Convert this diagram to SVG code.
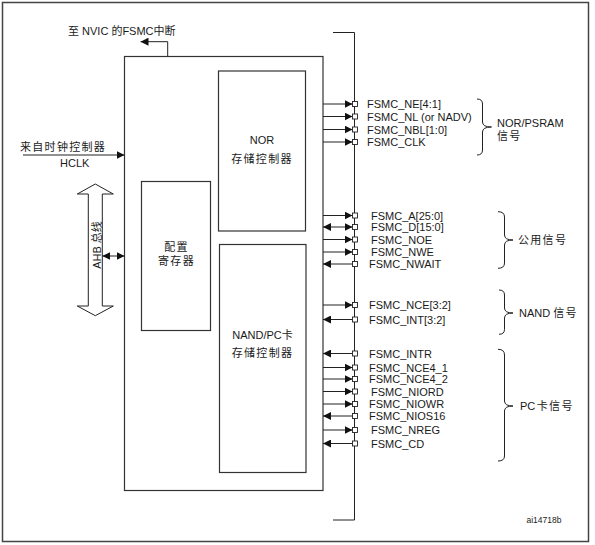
<svg xmlns="http://www.w3.org/2000/svg" width="595" height="545" viewBox="0 0 595 545">
<defs>
<style>
text{font-family:"Liberation Sans","Noto Sans CJK SC",sans-serif;font-size:11px;fill:#1a1a1a}
.cjk{letter-spacing:1.3px}
.box{fill:#fff;stroke:#333;stroke-width:1.2}
.ln{fill:none;stroke:#222;stroke-width:1}
.out{marker-end:url(#ah)}
.in{marker-end:url(#ah)}
.bi{marker-end:url(#ah);marker-start:url(#ahs)}
.pin{fill:#fff;stroke:#222;stroke-width:0.9}
.brace{fill:none;stroke:#222;stroke-width:1}
</style>
<marker id="ah" viewBox="0 0 8 8" refX="8" refY="4" markerWidth="8" markerHeight="8" markerUnits="userSpaceOnUse" orient="auto"><path d="M0,0 L8,4 L0,8 z" fill="#111"/></marker>
<marker id="ahs" viewBox="0 0 8 8" refX="8" refY="4" markerWidth="8" markerHeight="8" markerUnits="userSpaceOnUse" orient="auto-start-reverse"><path d="M0,0 L8,4 L0,8 z" fill="#111"/></marker>
</defs>
<rect x="0" y="0" width="595" height="545" fill="#fff"/>
<rect x="2.5" y="2.5" width="586" height="539" fill="none" stroke="#444" stroke-width="1.5"/>

<g id="fsmc">
<rect class="box" x="124.5" y="56.5" width="198.5" height="434"/>
</g>
<g id="nor-ctrl">
<rect class="box" x="218.5" y="71" width="87" height="160"/>
<text x="262" y="144" text-anchor="middle">NOR</text>
<text class="cjk" x="262" y="163" text-anchor="middle">存储控制器</text>
</g>
<g id="config-reg">
<rect class="box" x="141.5" y="181.5" width="69" height="149"/>
<text class="cjk" x="176.5" y="251" text-anchor="middle">配置</text>
<text class="cjk" x="176.5" y="265" text-anchor="middle">寄存器</text>
</g>
<g id="nand-ctrl">
<rect class="box" x="219.5" y="244.5" width="86.5" height="228"/>
<text x="262.5" y="339" text-anchor="middle">NAND/PC卡</text>
<text class="cjk" x="262.5" y="357" text-anchor="middle">存储控制器</text>
</g>
<g id="ahb-bus">
<polygon points="95.3,184 113.3,194 102.3,194 102.3,306 113.3,306 95.3,315.7 77.3,306 88.3,306 88.3,194 77.3,194" fill="#fff" stroke="#222" stroke-width="1"/>
<text x="0" y="0" text-anchor="middle" transform="translate(100.5,245) rotate(-90)">AHB 总线</text>
</g>
<g id="labels-left">
<text class="cjk" x="20" y="151">来自时钟控制器</text>
<text x="60" y="167">HCLK</text>
<text x="68" y="35">至 NVIC 的FSMC中断</text>
</g>
<g id="bus">
<path class="ln" d="M333,32.5 H354.5 V520 H333"/>
</g>
<g id="connectors">
<path class="ln out" d="M23,155 H124.5"/>
<path class="ln out" d="M167.7,56.5 V41.7 H140.5"/>
<path class="ln bi" d="M102.3,256 H124.5"/>
<path class="ln out" d="M323,104 H352.5"/>
<path class="ln out" d="M323,116.5 H352.5"/>
<path class="ln out" d="M323,129.5 H352.5"/>
<path class="ln out" d="M323,142 H352.5"/>
<path class="ln out" d="M323,215.5 H352.5"/>
<path class="ln bi" d="M323,227 H352.5"/>
<path class="ln out" d="M323,239.5 H352.5"/>
<path class="ln out" d="M323,252 H352.5"/>
<path class="ln in" d="M352.5,264 H323"/>
<path class="ln out" d="M323,305 H352.5"/>
<path class="ln in" d="M352.5,319.5 H323"/>
<path class="ln in" d="M352.5,353.5 H323"/>
<path class="ln out" d="M323,367.5 H352.5"/>
<path class="ln out" d="M323,379 H352.5"/>
<path class="ln out" d="M323,391.5 H352.5"/>
<path class="ln out" d="M323,404 H352.5"/>
<path class="ln in" d="M352.5,416 H323"/>
<path class="ln out" d="M323,430 H352.5"/>
<path class="ln in" d="M352.5,443.5 H323"/>
</g>
<g id="pins">
<rect class="pin" x="352.5" y="101.5" width="5" height="5"/>
<rect class="pin" x="352.5" y="114" width="5" height="5"/>
<rect class="pin" x="352.5" y="127" width="5" height="5"/>
<rect class="pin" x="352.5" y="139.5" width="5" height="5"/>
<rect class="pin" x="352.5" y="213" width="5" height="5"/>
<rect class="pin" x="352.5" y="224.5" width="5" height="5"/>
<rect class="pin" x="352.5" y="237" width="5" height="5"/>
<rect class="pin" x="352.5" y="249.5" width="5" height="5"/>
<rect class="pin" x="352.5" y="261.5" width="5" height="5"/>
<rect class="pin" x="352.5" y="302.5" width="5" height="5"/>
<rect class="pin" x="352.5" y="317" width="5" height="5"/>
<rect class="pin" x="352.5" y="351" width="5" height="5"/>
<rect class="pin" x="352.5" y="365" width="5" height="5"/>
<rect class="pin" x="352.5" y="376.5" width="5" height="5"/>
<rect class="pin" x="352.5" y="389" width="5" height="5"/>
<rect class="pin" x="352.5" y="401.5" width="5" height="5"/>
<rect class="pin" x="352.5" y="413.5" width="5" height="5"/>
<rect class="pin" x="352.5" y="427.5" width="5" height="5"/>
<rect class="pin" x="352.5" y="441" width="5" height="5"/>
</g>
<g id="signals-nor">
<text x="367" y="108">FSMC_NE[4:1]</text>
<text x="367" y="120.5">FSMC_NL (or NADV)</text>
<text x="367" y="133.5">FSMC_NBL[1:0]</text>
<text x="367" y="146">FSMC_CLK</text>
<path class="brace" d="M477,99 Q482.5,99 482.5,104 V122 Q482.5,127 491.5,127 Q482.5,127 482.5,132 V150 Q482.5,155 477,155"/>
<text x="497" y="127">NOR/PSRAM</text>
<text class="cjk" x="497" y="139.5">信号</text>
</g>
<g id="signals-common">
<text x="371" y="219.5">FSMC_A[25:0]</text>
<text x="371" y="231">FSMC_D[15:0]</text>
<text x="371" y="243.5">FSMC_NOE</text>
<text x="371" y="256">FSMC_NWE</text>
<text x="369" y="268">FSMC_NWAIT</text>
<path class="brace" d="M498,211.7 Q504.5,211.7 504.5,217 V235 Q504.5,240 513,240 Q504.5,240 504.5,245 V263 Q504.5,268.3 498,268.3"/>
<text class="cjk" x="518" y="244">公用信号</text>
</g>
<g id="signals-nand">
<text x="369" y="309">FSMC_NCE[3:2]</text>
<text x="369" y="323.5">FSMC_INT[3:2]</text>
<path class="brace" d="M499,290 Q504.5,290 504.5,295 V308 Q504.5,313 513,313 Q504.5,313 504.5,318 V329.3 Q504.5,334.3 499,334.3"/>
<text x="519" y="317">NAND <tspan class="cjk">信号</tspan></text>
</g>
<g id="signals-pc">
<text x="369" y="357.5">FSMC_INTR</text>
<text x="369" y="371.5">FSMC_NCE4_1</text>
<text x="369" y="383">FSMC_NCE4_2</text>
<text x="371" y="395.5">FSMC_NIORD</text>
<text x="369" y="408">FSMC_NIOWR</text>
<text x="369" y="420">FSMC_NIOS16</text>
<text x="371" y="434">FSMC_NREG</text>
<text x="371" y="447.5">FSMC_CD</text>
<path class="brace" d="M498,349.3 Q504.5,349.3 504.5,355 V401 Q504.5,406 513,406 Q504.5,406 504.5,411 V456 Q504.5,461 498,461"/>
<text x="520" y="410">PC<tspan class="cjk" dx="1.5">卡信号</tspan></text>
</g>
<text x="526.5" y="523" style="font-size:8.5px">ai14718b</text>
</svg>
